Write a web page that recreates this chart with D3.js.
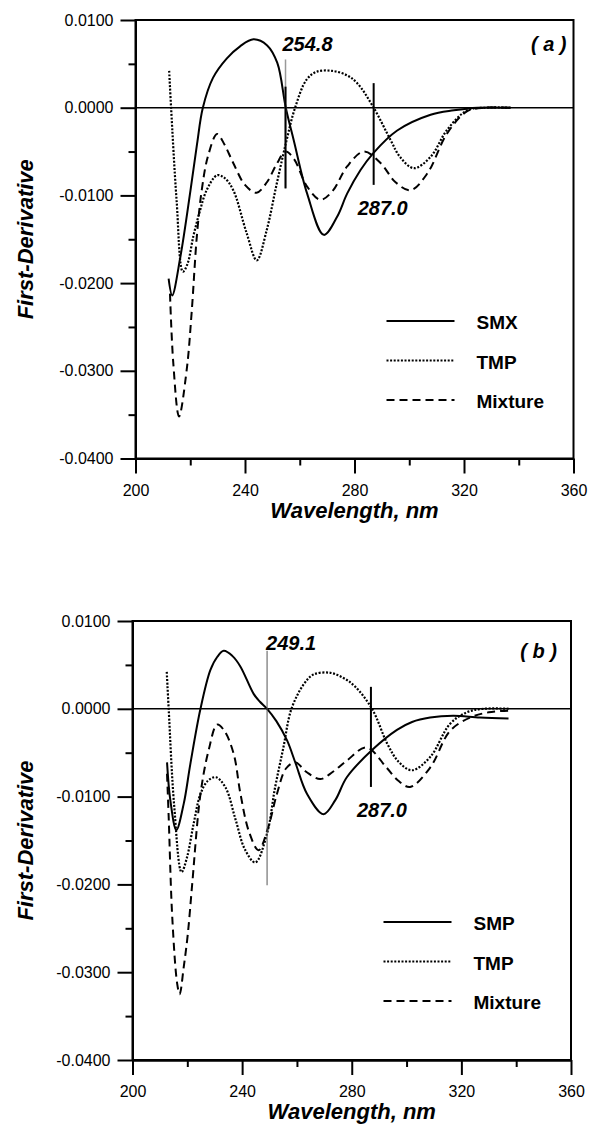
<!DOCTYPE html>
<html>
<head>
<meta charset="utf-8">
<script src="https://cdn.jsdelivr.net/npm/d3@7"></script>
<style>
  body { margin: 0; background: #fff; }
  svg { display: block; font-family: "Liberation Sans", Arial, sans-serif; }
  .axis path, .axis line { stroke: #000; stroke-width: 2; }
  .axis text { font-size: 16px; fill: #000; font-family: "Liberation Sans", Arial, sans-serif; }
  .bi { font-weight: bold; font-style: italic; fill: #000; }
</style>
</head>
<body>
<svg id="vis" width="590" height="1125"></svg>
<script>
// axis ticks
const xTicks = [200, 240, 280, 320, 360];
const xMinor = [220, 260, 300, 340];
const yTicks = [0.01, 0, -0.01, -0.02, -0.03, -0.04];
const yMinor = [0.005, -0.005, -0.015, -0.025, -0.035];

// panel (a) - SMX
const smxWl = [212.1, 213.4, 216.4, 220.1, 222.5, 224.6, 228.3, 233.3, 238.2, 243.1, 248.1, 251.8, 254.9, 257.8, 262.7, 268.8, 273.7, 277.3, 282.2, 286.8, 295.6, 307.8, 316.3, 325, 337];
const smxVal = [-0.0195, -0.0214, -0.0170, -0.0094, -0.0041, 0.0000, 0.0034, 0.0056, 0.0070, 0.0078, 0.0071, 0.0051, 0.0000, -0.0037, -0.0098, -0.0145, -0.0124, -0.0098, -0.0071, -0.0052, -0.0026, -0.0008, -0.0003, 0.0000, 0.0000];
// panel (a) - TMP
const tmpAWl = [212.3, 213.0, 215.0, 217.3, 219.0, 221.1, 223.5, 226.0, 229.8, 232.5, 235.7, 240.6, 244.3, 247.9, 251.5, 255.2, 258.3, 262.5, 266.2, 271.8, 277.2, 281.0, 287.0, 293.2, 296.6, 301.7, 307.8, 313.9, 321.2, 328, 337];
const tmpAVal = [0.0042, 0.0000, -0.0105, -0.0187, -0.0178, -0.0147, -0.0118, -0.0094, -0.0077, -0.0080, -0.0094, -0.0143, -0.0174, -0.0140, -0.0088, -0.0037, 0.0000, 0.0032, 0.0041, 0.0042, 0.0037, 0.0028, 0.0000, -0.0037, -0.0056, -0.0069, -0.0056, -0.0025, -0.0003, 0.0000, 0.0000];
// panel (a) - Mixture
const mixAWl = [212.6, 213.8, 215.9, 218.7, 220.5, 222.4, 224.2, 226.5, 229.8, 232.5, 235.7, 240.0, 244.2, 248.0, 251.6, 254.8, 257.8, 262.7, 267.6, 272.0, 277.3, 283.4, 289.5, 295.0, 300.5, 306.6, 313.9, 321.2, 328, 337];
const mixAVal = [-0.0212, -0.0291, -0.0352, -0.0299, -0.0234, -0.0147, -0.0094, -0.0055, -0.0030, -0.0042, -0.0063, -0.0088, -0.0097, -0.0085, -0.0064, -0.0050, -0.0058, -0.0090, -0.0105, -0.0095, -0.0067, -0.0050, -0.0063, -0.0085, -0.0094, -0.0075, -0.0029, -0.0004, 0.0000, 0.0000];

// panel (b) - SMP
const smpWl = [212.6, 213.8, 216.0, 218.7, 221.1, 224.8, 228.4, 230.9, 233.3, 236.5, 239.4, 244.2, 246.5, 249.1, 252.5, 256.4, 259.5, 263.7, 269.7, 274.0, 278.2, 287.4, 296.5, 302.0, 308.6, 317.0, 326.8, 337.2];
const smpVal = [-0.0061, -0.0104, -0.0138, -0.0108, -0.0063, 0.0000, 0.0044, 0.0059, 0.0066, 0.0060, 0.0048, 0.0017, 0.0008, 0.0000, -0.0014, -0.0036, -0.0062, -0.0097, -0.0120, -0.0104, -0.0078, -0.0047, -0.0024, -0.0015, -0.0010, -0.0008, -0.0010, -0.0011];
// panel (b) - TMP
const tmpBWl = [212.5, 213.2, 215.2, 217.9, 219.9, 222.3, 224.8, 227.5, 230.5, 234.0, 237.5, 241.0, 244.8, 249.1, 252.0, 255.0, 258.0, 262.5, 266.0, 272.2, 277.0, 281.0, 287.4, 293.0, 297.0, 301.9, 308.6, 315.9, 322.0, 328.0, 337.8];
const tmpBVal = [0.0042, 0.0000, -0.0110, -0.0186, -0.0169, -0.0131, -0.0097, -0.0082, -0.0078, -0.0090, -0.0125, -0.0160, -0.0175, -0.0142, -0.0090, -0.0045, 0.0000, 0.0028, 0.0039, 0.0041, 0.0035, 0.0026, 0.0000, -0.0040, -0.0060, -0.0070, -0.0055, -0.0017, -0.0004, 0.0000, 0.0000];
// panel (b) - Mixture
const mixBWl = [212.6, 213.2, 214.5, 216.3, 217.2, 218.7, 220.2, 221.8, 224.8, 227.8, 230.9, 233.5, 236.9, 239.4, 242.5, 246.0, 249.5, 252.7, 256.0, 259.4, 263.5, 268.5, 273.0, 278.2, 285.4, 292.7, 297.0, 301.3, 308.6, 315.9, 323.2, 330.0, 337.8];
const mixBVal = [-0.0074, -0.0123, -0.0237, -0.0313, -0.0325, -0.0294, -0.0256, -0.0199, -0.0097, -0.0047, -0.0018, -0.0025, -0.0051, -0.0097, -0.0140, -0.0161, -0.0135, -0.0097, -0.0068, -0.0061, -0.0072, -0.0080, -0.0072, -0.0059, -0.0044, -0.0067, -0.0082, -0.0089, -0.0067, -0.0025, -0.0010, -0.0004, -0.0002];

// marked wavelengths
const marksA = [254.8, 287.0];
const marksB = [249.1, 287.0];

const svg = d3.select("svg#vis");

const dashes = ["none", "2,1.6", "8,5"];

function translate(x, y) {
  return "translate(" + String(x) + "," + String(y) + ")";
}

function drawPanel(p) {
  const x = d3.scaleLinear().domain([200, 360]).range([p.left, p.right]);
  const y = d3.scaleLinear().domain([-0.04, 0.01]).range([p.bottom, p.top]);
  const g = svg.append("g");

  // minor ticks first
  g.append("g").attr("class", "axis")
    .attr("transform", translate(0, p.bottom))
    .call(d3.axisBottom(x).tickValues(xMinor).tickSize(7).tickSizeOuter(0).tickFormat(""));
  g.append("g").attr("class", "axis")
    .attr("transform", translate(p.left, 0))
    .call(d3.axisLeft(y).tickValues(yMinor).tickSize(7).tickSizeOuter(0).tickFormat(""));

  g.append("g").attr("class", "axis")
    .attr("transform", translate(0, p.bottom))
    .call(d3.axisBottom(x).tickValues(xTicks).tickSize(15).tickSizeOuter(0).tickPadding(11).tickFormat(d3.format("d")));
  g.append("g").attr("class", "axis")
    .attr("transform", translate(p.left, 0))
    .call(d3.axisLeft(y).tickValues(yTicks).tickSize(15).tickSizeOuter(0).tickPadding(7).tickFormat(d => d.toFixed(4)));

  // frame
  g.append("rect")
    .attr("x", p.left).attr("y", p.top)
    .attr("width", p.right - p.left).attr("height", p.bottom - p.top)
    .attr("fill", "none").attr("stroke", "#000").attr("stroke-width", 2);

  // zero line
  g.append("line")
    .attr("x1", p.left).attr("x2", p.right)
    .attr("y1", y(0)).attr("y2", y(0))
    .attr("stroke", "#000").attr("stroke-width", 1.5);

  // curves
  const line = d3.line()
    .x(d => x(d[0]))
    .y(d => y(d[1]))
    .curve(d3.curveCatmullRom.alpha(0.5));

  p.series.forEach(function(s, i) {
    const pts = s.wl.map((w, j) => [w, s.val[j]]);
    g.append("path")
      .datum(pts)
      .attr("d", line)
      .attr("fill", "none")
      .attr("stroke", "#000")
      .attr("stroke-width", i == 1 ? 2.2 : 2)
      .attr("stroke-dasharray", dashes[i]);
  });

  // marker lines
  p.lines.forEach(function(l) {
    g.append("line")
      .attr("x1", x(l.w)).attr("x2", x(l.w))
      .attr("y1", y(l.v[0])).attr("y2", y(l.v[1]))
      .attr("stroke", l.color).attr("stroke-width", l.width);
  });

  // marker labels
  p.labels.forEach(function(l) {
    g.append("text")
      .attr("class", "bi")
      .attr("x", x(l.w) + l.dx)
      .attr("y", p.top + l.dy)
      .style("font-size", "20px")
      .text(l.w.toFixed(1));
  });

  // panel tag
  g.append("text")
    .attr("class", "bi")
    .attr("x", p.right - p.tagDx)
    .attr("y", p.top + p.tagDy)
    .attr("text-anchor", "end")
    .style("font-size", "20px")
    .style("white-space", "pre")
    .text(p.tag);

  // legend
  p.names.forEach(function(n, i) {
    const ly = p.top + 301 + i * 39.5;
    g.append("line")
      .attr("x1", p.left + 251).attr("x2", p.left + 319)
      .attr("y1", ly).attr("y2", ly)
      .attr("stroke", "#000").attr("stroke-width", 2)
      .attr("stroke-dasharray", dashes[i]);
    g.append("text")
      .attr("x", p.left + 341)
      .attr("y", ly + 8)
      .style("font-size", "19px")
      .style("font-weight", "bold")
      .text(n);
  });

  // axis titles
  g.append("text")
    .attr("class", "bi")
    .attr("text-anchor", "middle")
    .attr("transform", translate(33, (p.top + p.bottom) / 2) + " rotate(-90)")
    .style("font-size", "22px")
    .text("First-Derivative");

  g.append("text")
    .attr("class", "bi")
    .attr("text-anchor", "middle")
    .attr("x", (p.left + p.right) / 2)
    .attr("y", p.bottom + 59)
    .style("font-size", "22px")
    .text("Wavelength, nm");
}

drawPanel({
  left: 135.5, right: 573.5, top: 20, bottom: 458.5,
  tag: "( a )", tagDx: 7, tagDy: 31,
  names: ["SMX", "TMP", "Mixture"],
  series: [
    { wl: smxWl, val: smxVal },
    { wl: tmpAWl, val: tmpAVal },
    { wl: mixAWl, val: mixAVal }
  ],
  lines: [
    { w: marksA[0], v: [0.0055, -0.0092], color: "#999", width: 1.5 },
    { w: marksA[0], v: [0.0024, -0.0092], color: "#000", width: 2 },
    { w: marksA[1], v: [0.0028, -0.0088], color: "#000", width: 2 }
  ],
  labels: [
    { w: marksA[0], dx: -3, dy: 31 },
    { w: marksA[1], dx: -16, dy: 195 }
  ]
});

drawPanel({
  left: 132.5, right: 571, top: 621, bottom: 1060,
  tag: "( b )", tagDx: 14, tagDy: 37,
  names: ["SMP", "TMP", "Mixture"],
  series: [
    { wl: smpWl, val: smpVal },
    { wl: tmpBWl, val: tmpBVal },
    { wl: mixBWl, val: mixBVal }
  ],
  lines: [
    { w: marksB[0], v: [0.0066, -0.0201], color: "#555", width: 1 },
    { w: marksB[1], v: [0.0025, -0.0089], color: "#000", width: 2 }
  ],
  labels: [
    { w: marksB[0], dx: -1, dy: 29 },
    { w: marksB[1], dx: -14, dy: 196 }
  ]
});
</script>
</body>
</html>
